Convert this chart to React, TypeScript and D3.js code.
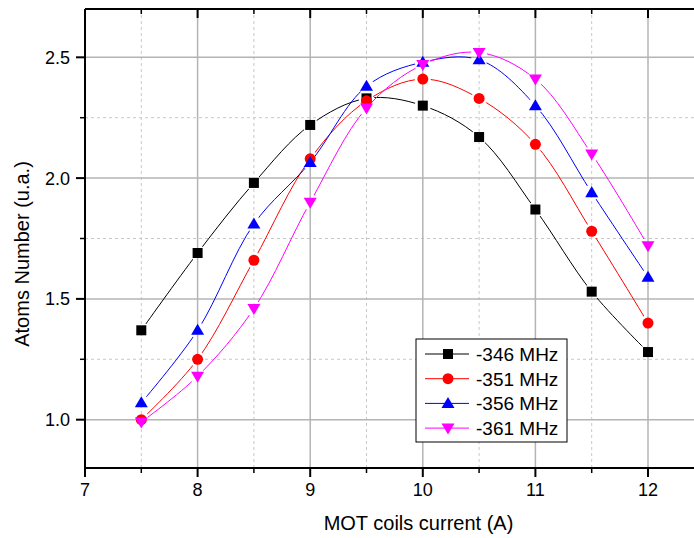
import React from 'react'
import * as d3 from 'd3'

const current = [7.5, 8, 8.5, 9, 9.5, 10, 10.5, 11, 11.5, 12]
const mhz346 = [1.37, 1.69, 1.98, 2.22, 2.33, 2.30, 2.17, 1.87, 1.53, 1.28]
const mhz351 = [1.00, 1.25, 1.66, 2.08, 2.32, 2.41, 2.33, 2.14, 1.78, 1.40]
const mhz356 = [1.07, 1.37, 1.81, 2.065, 2.38, 2.48, 2.49, 2.30, 1.94, 1.59]
const mhz361 = [0.99, 1.18, 1.46, 1.90, 2.29, 2.47, 2.52, 2.41, 2.10, 1.72]

const seriesNames = ['-346 MHz', '-351 MHz', '-356 MHz', '-361 MHz']
const seriesColors = ['#000000', '#ff0000', '#0000ff', '#ff00ff']
const seriesShapes = ['square', 'circle', 'up', 'down']
const seriesValues = [mhz346, mhz351, mhz356, mhz361]

const xTicks = [7, 8, 9, 10, 11, 12]
const yTicks = [1.0, 1.5, 2.0, 2.5]

const W = 694, H = 538
const left = 85, right = 702, top = 9, bottom = 468
const font = 'Arial, "Liberation Sans", sans-serif'

const x = d3.scaleLinear().domain([7, 7 + (right - left) / 112.6]).range([left, right])
const y = d3.scaleLinear().domain([0.8, 2.7]).range([bottom, top])

const xMinor = d3.range(7.5, 12.5, 1)
const yMinor = [1.25, 1.75, 2.25]

const Marker = ({shape, cx, cy, color}) => {
    if (shape === 'square') return <rect x={cx - 5} y={cy - 5} width={10} height={10} fill={color} />
    if (shape === 'circle') return <circle cx={cx} cy={cy} r={5.5} fill={color} />
    const s = 6.5
    const pts = shape === 'up'
        ? [[cx, cy - s], [cx - s, cy + s * 0.7], [cx + s, cy + s * 0.7]]
        : [[cx, cy + s], [cx - s, cy - s * 0.7], [cx + s, cy - s * 0.7]]
    return <polygon points={pts.map(p => p.join(',')).join(' ')} fill={color} />
}

const App = () => {
    const line = d3.line().x(d => x(d[0])).y(d => y(d[1])).curve(d3.curveCatmullRom.alpha(0.5))

    return (
        <svg width={W} height={H} style={{position: 'absolute', left: 0, top: 0, background: '#fff'}}>
            <defs>
                {seriesValues.map((vals, i) => (
                    <mask id={`gap${i}`} key={i}>
                        <rect x={0} y={0} width={W} height={H} fill="#fff" />
                        {vals.map((v, j) => <circle key={j} cx={x(current[j])} cy={y(v)} r={8} fill="#000" />)}
                    </mask>
                ))}
            </defs>

            {/* grid */}
            {xMinor.map(t => <line key={'xm' + t} x1={x(t)} x2={x(t)} y1={top} y2={bottom} stroke="#c8c8c8" strokeDasharray="3,3" />)}
            {yMinor.map(t => <line key={'ym' + t} x1={left} x2={right} y1={y(t)} y2={y(t)} stroke="#c8c8c8" strokeDasharray="3,3" />)}
            {xTicks.map(t => <line key={'xg' + t} x1={x(t)} x2={x(t)} y1={top} y2={bottom} stroke="#b4b4b4" strokeWidth={1.5} />)}
            {yTicks.map(t => <line key={'yg' + t} x1={left} x2={right} y1={y(t)} y2={y(t)} stroke="#b4b4b4" strokeWidth={1.5} />)}

            {/* series */}
            {seriesValues.map((vals, i) => (
                <g key={i}>
                    <path d={line(vals.map((v, j) => [current[j], v]))} fill="none" stroke={seriesColors[i]} strokeWidth={1} mask={`url(#gap${i})`} />
                    {vals.map((v, j) => <Marker key={j} shape={seriesShapes[i]} cx={x(current[j])} cy={y(v)} color={seriesColors[i]} />)}
                </g>
            ))}

            {/* axes */}
            <line x1={left} x2={right} y1={bottom} y2={bottom} stroke="#000" strokeWidth={2} />
            <line x1={left} x2={right} y1={top} y2={top} stroke="#000" strokeWidth={2} />
            <line x1={left} x2={left} y1={top} y2={bottom + 1} stroke="#000" strokeWidth={2} />
            <line x1={right} x2={right} y1={top} y2={bottom} stroke="#000" strokeWidth={2} />
            {xTicks.map(t => (
                <g key={'xt' + t}>
                    <line x1={x(t)} x2={x(t)} y1={bottom} y2={bottom + 9} stroke="#000" strokeWidth={2} />
                    <line x1={x(t)} x2={x(t)} y1={top} y2={top + 9} stroke="#000" strokeWidth={2} />
                    <text x={x(t)} y={496} textAnchor="middle" fontFamily={font} fontSize={18} fill="#000">{t}</text>
                </g>
            ))}
            {xMinor.map(t => (
                <g key={'xmt' + t}>
                    <line x1={x(t)} x2={x(t)} y1={bottom} y2={bottom + 5} stroke="#000" strokeWidth={1.5} />
                    <line x1={x(t)} x2={x(t)} y1={top} y2={top + 5} stroke="#000" strokeWidth={1.5} />
                </g>
            ))}
            {yTicks.map(t => (
                <g key={'yt' + t}>
                    <line x1={left - 9} x2={left} y1={y(t)} y2={y(t)} stroke="#000" strokeWidth={2} />
                    <text x={70} y={y(t) + 6.5} textAnchor="end" fontFamily={font} fontSize={18} fill="#000">{t.toFixed(1)}</text>
                </g>
            ))}
            {yMinor.map(t => <line key={'ymt' + t} x1={left - 5} x2={left} y1={y(t)} y2={y(t)} stroke="#000" strokeWidth={1.5} />)}

            <text x={(left + 648) / 2 + 52} y={530} textAnchor="middle" fontFamily={font} fontSize={20} fill="#000">MOT coils current (A)</text>
            <text transform={`translate(29, 254) rotate(-90)`} textAnchor="middle" fontFamily={font} fontSize={20} fill="#000">Atoms Number (u.a.)</text>

            {/* legend */}
            <g transform="translate(416, 339)">
                <rect x={0} y={0} width={151} height={103} fill="#fff" stroke="#000" strokeWidth={1} />
                {seriesNames.map((name, i) => {
                    const cy = 15 + i * 24.7
                    return (
                        <g key={name}>
                            <line x1={9} x2={53} y1={cy} y2={cy} stroke={seriesColors[i]} strokeWidth={1} />
                            <Marker shape={seriesShapes[i]} cx={32} cy={cy} color={seriesColors[i]} />
                            <text x={60} y={cy + 7} fontFamily={font} fontSize={19} fill="#000">{name}</text>
                        </g>
                    )
                })}
            </g>
        </svg>
    )
}

export default App
